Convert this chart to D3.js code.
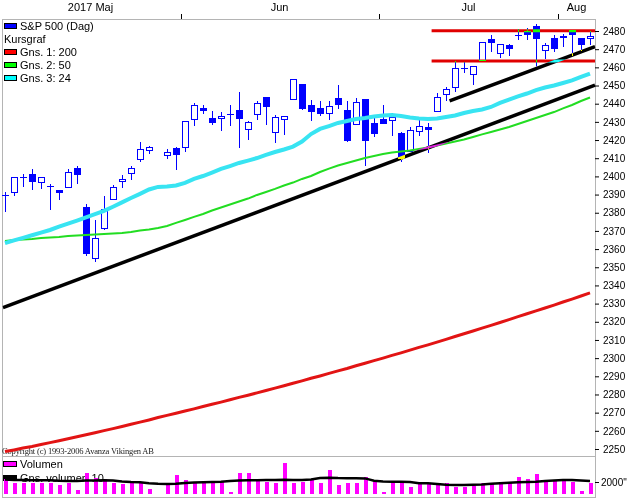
<!DOCTYPE html>
<html>
<head>
<meta charset="utf-8">
<title>S&amp;P 500 (Dag)</title>
<script src="https://cdn.jsdelivr.net/npm/d3@7/dist/d3.min.js"></script>
<style>
  body { margin: 0; background: #fff; }
  svg { display: block; font-family: "Liberation Sans", Arial, sans-serif; font-size: 11px; }
</style>
</head>
<body>
<svg id="chart" width="630" height="499"></svg>
<script>
// one slot per trading day; 2017-05-29 is an empty slot in the source chart
const dates = [
  "2017-05-04","2017-05-05","2017-05-08","2017-05-09","2017-05-10","2017-05-11","2017-05-12","2017-05-15","2017-05-16","2017-05-17",
  "2017-05-18","2017-05-19","2017-05-22","2017-05-23","2017-05-24","2017-05-25","2017-05-26","2017-05-29","2017-05-30","2017-05-31",
  "2017-06-01","2017-06-02","2017-06-05","2017-06-06","2017-06-07","2017-06-08","2017-06-09","2017-06-12","2017-06-13","2017-06-14",
  "2017-06-15","2017-06-16","2017-06-19","2017-06-20","2017-06-21","2017-06-22","2017-06-23","2017-06-26","2017-06-27","2017-06-28",
  "2017-06-29","2017-06-30","2017-07-03","2017-07-05","2017-07-06","2017-07-07","2017-07-10","2017-07-11","2017-07-12","2017-07-13",
  "2017-07-14","2017-07-17","2017-07-18","2017-07-19","2017-07-20","2017-07-21","2017-07-24","2017-07-25","2017-07-26","2017-07-27",
  "2017-07-28","2017-07-31","2017-08-01","2017-08-02","2017-08-03","2017-08-04"
];
const open = [
  2389.79,2391.37,2399.94,2401.58,2396.79,2394.84,2392.44,2393.98,2404.55,2382.95,
  2354.69,2371.37,2387.21,2397.04,2401.41,2409.54,2414.50,null,2411.67,2415.63,
  2415.65,2431.28,2437.83,2431.92,2432.03,2434.27,2436.39,2425.88,2434.15,2443.75,
  2424.14,2431.24,2442.55,2450.66,2439.31,2437.40,2434.65,2443.32,2436.34,2428.70,
  2442.38,2429.20,2431.39,2430.78,2423.73,2413.52,2424.51,2427.35,2435.75,2444.99,
  2449.16,2459.50,2455.88,2463.85,2475.56,2467.40,2472.04,2477.88,2479.97,2482.76,
  2469.12,2475.94,2477.10,2480.38,2476.03,2476.14
];
const high = [
  2391.43,2399.29,2401.36,2403.87,2399.74,2395.72,2392.44,2404.05,2405.77,2384.87,
  2375.74,2389.06,2395.46,2400.85,2405.58,2418.71,2416.68,null,2415.26,2415.99,
  2430.06,2440.23,2439.54,2436.21,2435.28,2439.27,2446.20,2430.38,2441.49,2443.75,
  2433.95,2433.15,2453.82,2450.66,2442.23,2441.62,2441.40,2450.42,2441.67,2442.97,
  2442.73,2432.71,2439.17,2434.90,2424.28,2426.92,2432.00,2429.30,2445.76,2449.32,
  2463.54,2462.82,2460.92,2473.83,2477.62,2472.54,2473.10,2481.24,2481.69,2484.04,
  2473.53,2477.96,2478.51,2480.38,2476.03,2480.00
];
const low = [
  2380.35,2389.40,2393.92,2392.44,2392.79,2381.74,2387.19,2393.94,2396.05,2356.21,
  2352.72,2370.43,2386.92,2393.88,2397.99,2408.01,2412.20,null,2409.43,2403.59,
  2413.54,2427.71,2434.32,2428.12,2424.75,2427.94,2415.70,2419.97,2431.28,2428.34,
  2418.53,2422.88,2441.79,2436.60,2430.74,2433.27,2431.11,2437.03,2418.80,2428.02,
  2405.70,2421.65,2428.69,2422.05,2407.70,2413.52,2422.27,2412.79,2435.75,2441.69,
  2446.69,2457.16,2450.34,2463.85,2468.43,2465.06,2466.32,2474.91,2474.94,2459.93,
  2464.66,2468.53,2471.14,2466.48,2468.85,2472.08
];
const close = [
  2389.52,2399.29,2399.38,2396.92,2399.63,2394.44,2390.90,2402.32,2400.67,2357.03,
  2365.72,2381.73,2394.02,2398.42,2404.39,2415.07,2415.82,null,2412.91,2411.80,
  2430.06,2439.07,2436.10,2429.33,2433.14,2433.79,2431.77,2429.39,2440.35,2437.92,
  2432.46,2433.15,2453.46,2437.03,2435.61,2434.50,2438.30,2439.07,2419.38,2440.69,
  2419.70,2423.41,2429.01,2432.54,2409.75,2425.18,2427.43,2425.53,2443.25,2447.83,
  2459.27,2459.14,2460.61,2473.83,2473.45,2472.54,2469.91,2477.13,2477.83,2475.42,
  2472.10,2470.30,2476.35,2477.57,2472.16,2476.83
];

// moving averages
const ma200 = [
  2248.6,2249.5,2250.5,2251.4,2252.5,2253.5,2254.5,2255.6,2256.7,2257.8,
  2258.9,2260.1,2261.2,2262.4,2263.6,2264.8,2266.0,2267.3,2268.5,2269.7,
  2270.9,2272.1,2273.4,2274.6,2275.8,2277.1,2278.4,2279.6,2280.9,2282.2,
  2283.5,2284.8,2286.2,2287.5,2288.9,2290.2,2291.6,2293.0,2294.3,2295.8,
  2297.2,2298.6,2300.0,2301.5,2302.9,2304.4,2305.9,2307.3,2308.8,2310.3,
  2311.9,2313.4,2314.9,2316.5,2318.0,2319.6,2321.2,2322.8,2324.4,2326.0,
  2327.6,2329.2,2330.9,2332.5,2334.2,2335.9
];
const ma50 = [
  2364.4,2365.0,2365.3,2365.6,2366.1,2366.4,2366.7,2367.2,2367.5,2367.8,
  2368.0,2368.3,2368.6,2368.9,2369.4,2370.2,2370.8,2371.6,2372.7,2374.4,
  2376.0,2377.7,2379.3,2381.2,2382.9,2384.5,2386.2,2387.8,2389.8,2391.4,
  2393.1,2395.0,2396.6,2398.6,2400.2,2402.4,2404.3,2406.0,2407.4,2408.7,
  2410.1,2411.2,2412.3,2413.1,2413.7,2414.2,2415.1,2415.9,2417.0,2418.1,
  2419.2,2420.3,2421.7,2423.1,2424.4,2425.8,2427.2,2428.8,2430.5,2432.1,
  2433.8,2435.4,2437.4,2439.3,2441.5,2443.4
];
const ma24 = [
  2363.3,2364.8,2366.2,2367.6,2369.1,2370.5,2372.3,2374.0,2375.7,2377.5,
  2379.2,2381.0,2383.3,2385.7,2388.1,2390.4,2392.8,2394.2,2394.4,2395.0,
  2396.4,2398.6,2400.2,2402.1,2404.1,2405.7,2407.4,2408.7,2410.1,2411.8,
  2413.4,2414.8,2416.4,2419.2,2423.3,2426.1,2427.7,2429.4,2430.5,2431.6,
  2432.1,2433.0,2433.5,2433.8,2433.2,2432.4,2431.9,2431.6,2431.9,2432.7,
  2433.5,2434.9,2436.0,2436.8,2438.2,2440.4,2442.3,2444.0,2445.6,2447.5,
  2448.9,2450.0,2451.4,2452.8,2454.7,2456.6
];

// volume panel
const volume = [
  2450,1780,1800,1760,1790,1770,1500,1780,670,3450,
  2620,2450,1780,1620,1760,2050,780,null,1780,3170,
  2330,2050,1780,2050,2170,390,3450,3420,2220,2050,
  1780,5220,1800,2050,2450,1880,4000,1500,1880,1860,
  2780,2050,380,2050,2030,1220,1780,1620,1780,1760,
  1220,1120,1330,1780,1790,1880,1780,2880,2500,3330,
  2050,2330,2220,2050,550,1780
];
const volumeAvg = [
  2420,2330,2330,2300,2300,2280,2200,2170,2150,2230,
  2250,2280,2250,2100,2000,1950,1800,1700,1670,1700,
  1850,1920,1950,2000,2050,2150,2250,2280,2300,2330,
  2330,2380,2350,2350,2420,2670,2720,2650,2620,2620,
  2600,2220,2100,2050,2050,2000,1800,1780,1650,1550,
  1500,1500,1550,1600,1700,1800,1880,1950,2000,2050,
  2150,2250,2320,2330,2250,2170
];

// drawn lines: trend channel and two horizontal levels
const trendStartSlot = [0, 49.4];
const trendStartPrice = [2328.2, 2441.5];
const trendEndSlot = [65, 65];
const trendEndPrice = [2449.2, 2470.4];
const trendToLeftEdge = [true, false];
const levelPrice = [2480.2, 2463.5];
const levelStartSlot = 47.4;

const monthLabels = ["2017 Maj", "Jun", "Jul", "Aug"];
const priceTicks = d3.range(2250, 2481, 10);
const volumeTicks = [2000];

const svg = d3.select("#chart");
const plotLeft = 2, plotRight = 595, plotTop = 19, plotBottom = 456, volBottom = 497;

const x = d3.scaleLinear().domain([0, dates.length - 1]).range([5, 590]);
const y = d3.scaleLinear().domain([2250, 2480]).range([449, 31]);
const yv = d3.scaleLinear().domain([0, 2000]).range([494, 482]);

// white backdrop (needed for the xor-like blend of the drawn lines)
svg.append("rect").attr("width", 630).attr("height", 499).attr("fill", "#fff");

// frames
svg.append("rect")
  .attr("x", plotLeft + 0.5).attr("y", plotTop + 0.5)
  .attr("width", plotRight - plotLeft).attr("height", plotBottom - plotTop)
  .attr("fill", "none").attr("stroke", "#b4b4b4");
svg.append("rect")
  .attr("x", plotLeft + 0.5).attr("y", plotBottom + 0.5)
  .attr("width", plotRight - plotLeft).attr("height", volBottom - plotBottom)
  .attr("fill", "none").attr("stroke", "#b4b4b4");

// month axis on top
const slots = dates.map((d, i) => ({ m: d.slice(0, 7), i }));
slots.filter(s => s.i > 0 && s.m !== slots[s.i - 1].m).forEach(s => {
  const tx = Math.round(x(s.i - 0.5)) + 0.5;
  svg.append("line")
    .attr("x1", tx).attr("x2", tx)
    .attr("y1", 14).attr("y2", plotTop)
    .attr("stroke", "#000");
});
d3.groups(slots, s => s.m).forEach(([m, arr], k) => {
  svg.append("text")
    .attr("x", (x(arr[0].i) + x(arr[arr.length - 1].i)) / 2)
    .attr("y", 11)
    .attr("text-anchor", "middle")
    .text(monthLabels[k]);
});

// price legend
const legend = [
  { label: "S&P 500 (Dag)", color: "#0000ff" },
  { label: "Kursgraf", color: null },
  { label: "Gns. 1: 200", color: "#ff0000" },
  { label: "Gns. 2: 50", color: "#00ff00" },
  { label: "Gns. 3: 24", color: "#00ffff" }
];
legend.forEach((d, k) => {
  const cy = 25.7 + k * 13.1;
  if (d.color) {
    svg.append("rect")
      .attr("x", 4.5).attr("y", Math.round(cy - 3) + 0.5)
      .attr("width", 12).attr("height", 5)
      .attr("fill", d.color).attr("stroke", "#000");
  }
  svg.append("text")
    .attr("x", d.color ? 20 : 4)
    .attr("y", cy + 4)
    .text(d.label);
});

svg.append("text")
  .attr("x", 2).attr("y", 454)
  .attr("font-family", "'Liberation Serif', 'Times New Roman', serif")
  .attr("font-size", 8.5)
  .attr("textLength", 152)
  .attr("fill", "#222")
  .text("Copyright (c) 1993-2006 Avanza Vikingen AB");

// candles
const days = d3.range(dates.length).filter(i => close[i] != null);
const blue = "#0000ff";
const cg = svg.append("g").attr("shape-rendering", "crispEdges");
cg.selectAll("line")
  .data(days)
  .join("line")
  .attr("x1", i => x(i) + 0.5).attr("x2", i => x(i) + 0.5)
  .attr("y1", i => y(high[i])).attr("y2", i => y(low[i]))
  .attr("stroke", blue);
cg.selectAll("rect")
  .data(days)
  .join("rect")
  .attr("x", i => close[i] >= open[i] ? x(i) - 2.5 : x(i) - 3)
  .attr("width", i => close[i] >= open[i] ? 6 : 7)
  .attr("y", i => y(Math.max(open[i], close[i])))
  .attr("height", i => Math.max(1, Math.abs(y(open[i]) - y(close[i]))))
  .attr("fill", i => close[i] >= open[i] ? "#fff" : blue)
  .attr("stroke", i => close[i] >= open[i] ? blue : "none");

// moving averages
const maLine = d3.line().x((d, i) => x(i)).y(d => y(d));
[[ma200, "#e21414", 3], [ma50, "#22dd22", 2], [ma24, "#38e4f2", 4]].forEach(([data, color, w]) => {
  svg.append("path")
    .attr("d", maLine(data))
    .attr("fill", "none")
    .attr("stroke", color)
    .attr("stroke-width", w);
});

// trend lines and levels, drawn in "difference" mode like the xor pen of the original
trendStartSlot.forEach((s1, k) => {
  const slope = (trendEndPrice[k] - trendStartPrice[k]) / (trendEndSlot[k] - s1);
  const a = trendToLeftEdge[k] ? x.invert(plotLeft + 1) : s1;
  const b = x.invert(plotRight);
  const pts = [a, b].map(s => [x(s), y(trendStartPrice[k] + slope * (s - s1))]);
  svg.append("path")
    .attr("d", d3.line()(pts))
    .attr("stroke", "#fff")
    .attr("stroke-width", 3.5)
    .style("mix-blend-mode", "difference");
});
levelPrice.forEach(p => {
  svg.append("path")
    .attr("d", d3.line()([[x(levelStartSlot), y(p)], [plotRight, y(p)]]))
    .attr("stroke", "#1fffff")
    .attr("stroke-width", 3)
    .style("mix-blend-mode", "difference");
});

// price axis
const yAxis = svg.append("g")
  .attr("transform", `translate(${plotRight},0)`)
  .call(d3.axisRight(y).tickValues(priceTicks).tickSize(4).tickPadding(4).tickFormat(d3.format("d")));
yAxis.select(".domain").remove();
yAxis.selectAll("text").attr("font-family", null).attr("font-size", null).attr("fill", "#000");
yAxis.selectAll("line").attr("stroke", "#000");

// volume legend
[["Volumen", "#ff00ff"], ["Gns. volumer: 10", "#000"]].forEach(([label, color], k) => {
  const cy = 464.3 + k * 13.3;
  svg.append("rect")
    .attr("x", 3.5).attr("y", Math.round(cy - 3) + 0.5)
    .attr("width", 13).attr("height", 5)
    .attr("fill", color).attr("stroke", "#000");
  svg.append("text").attr("x", 20).attr("y", cy + 4).text(label);
});

// volume bars and average
svg.append("g").attr("shape-rendering", "crispEdges")
  .selectAll("rect")
  .data(d3.range(dates.length).filter(i => volume[i] != null))
  .join("rect")
  .attr("x", i => x(i) - 1.5)
  .attr("width", 4)
  .attr("y", i => yv(volume[i]))
  .attr("height", i => yv(0) - yv(volume[i]))
  .attr("fill", "#ff00ff");
const volLine = d3.line().x((d, i) => x(i)).y(d => yv(d));
svg.append("path")
  .attr("d", volLine(volumeAvg))
  .attr("fill", "none")
  .attr("stroke", "#000")
  .attr("stroke-width", 2.5);

const vAxis = svg.append("g")
  .attr("transform", `translate(${plotRight},0)`)
  .call(d3.axisRight(yv).tickValues(volumeTicks).tickSize(4).tickPadding(2).tickFormat(d => d + '"'));
vAxis.select(".domain").remove();
vAxis.selectAll("text").attr("font-family", null).attr("font-size", null).attr("fill", "#000");
vAxis.selectAll("line").attr("stroke", "#000");
</script>
</body>
</html>
